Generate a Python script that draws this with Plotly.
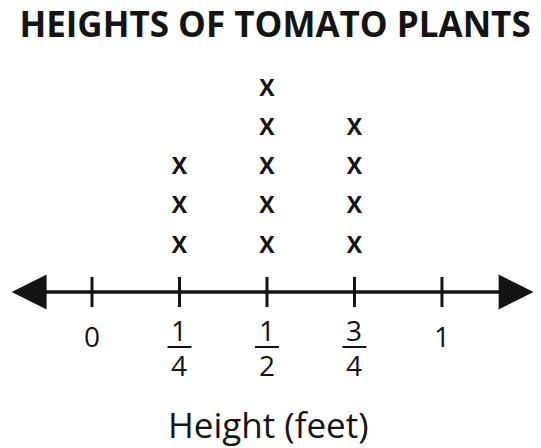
import plotly.graph_objects as go

# one entry per plant, height in feet
heights = [0.25, 0.25, 0.25,
           0.5, 0.5, 0.5, 0.5, 0.5,
           0.75, 0.75, 0.75, 0.75]

tick_vals = [0, 0.25, 0.5, 0.75, 1]
tick_num = ["0", "1", "1", "3", "1"]
tick_den = ["", "4", "2", "4", ""]

title_text = "HEIGHTS OF TOMATO PLANTS"
axis_text = "Height (feet)"

INK = "#141414"
FONT = "Open Sans"

# page body adds an 8px margin, so the figure is drawn 8px smaller
W, H = 533, 440

# stack an X for every plant above its value
xs, ys, counts = [], [], {}
for h in heights:
    counts[h] = counts.get(h, 0) + 1
    xs.append(h)
    ys.append(counts[h])

LINE_Y = -0.145  # number line sits just under the first row of X's

fig = go.Figure()
fig.add_trace(go.Scatter(
    x=xs, y=ys, mode="text", text=["X"] * len(xs),
    textposition="middle center",
    textfont=dict(family=FONT, size=23, color=INK, weight="bold"),
    hoverinfo="skip", showlegend=False,
))

shapes = []
annotations = []

# number line with arrows at both ends
annotations.append(dict(
    x=1.262, y=LINE_Y, ax=-0.234, ay=LINE_Y, xref="x", yref="y",
    axref="x", ayref="y", text="", showarrow=True,
    arrowhead=2, startarrowhead=2, arrowside="end+start",
    arrowwidth=3.5, arrowsize=2.0, startarrowsize=2.0, arrowcolor=INK,
))

for v, num, den in zip(tick_vals, tick_num, tick_den):
    # tick mark across the line
    shapes.append(dict(type="line", xref="x", yref="y", ysizemode="pixel",
                       yanchor=LINE_Y, x0=v, x1=v, y0=-15, y1=15,
                       line=dict(color=INK, width=3)))
    if den:
        annotations.append(dict(x=v, y=LINE_Y, yshift=-38, text=num, showarrow=False,
                                font=dict(family=FONT, size=28, color=INK)))
        annotations.append(dict(x=v, y=LINE_Y, yshift=-73, text=den, showarrow=False,
                                font=dict(family=FONT, size=28, color=INK)))
        shapes.append(dict(type="line", xref="x", yref="y",
                           xsizemode="pixel", xanchor=v, x0=-12, x1=12,
                           ysizemode="pixel", yanchor=LINE_Y, y0=-55, y1=-55,
                           line=dict(color=INK, width=2)))
    else:
        annotations.append(dict(x=v, y=LINE_Y, yshift=-44.5, text=num, showarrow=False,
                                font=dict(family=FONT, size=28, color=INK)))

annotations.append(dict(x=0.505, y=1 - 442 / H, xref="x", yref="paper",
                        text=axis_text, showarrow=False,
                        font=dict(family=FONT, size=35, color=INK)))

fig.update_layout(
    width=W, height=H,
    margin=dict(l=0, r=0, t=0, b=0),
    paper_bgcolor="white", plot_bgcolor="white",
    title=dict(text=title_text, x=0.501, xanchor="center", y=1 - 17 / H, yanchor="middle",
               font=dict(family=FONT, size=35, color=INK, weight="bold")),
    xaxis=dict(range=[-0.24, 1.283], visible=False, fixedrange=True),
    yaxis=dict(range=[-4.115, 7.081], visible=False, fixedrange=True),
    shapes=shapes, annotations=annotations,
)

fig.write_html("out.html")
